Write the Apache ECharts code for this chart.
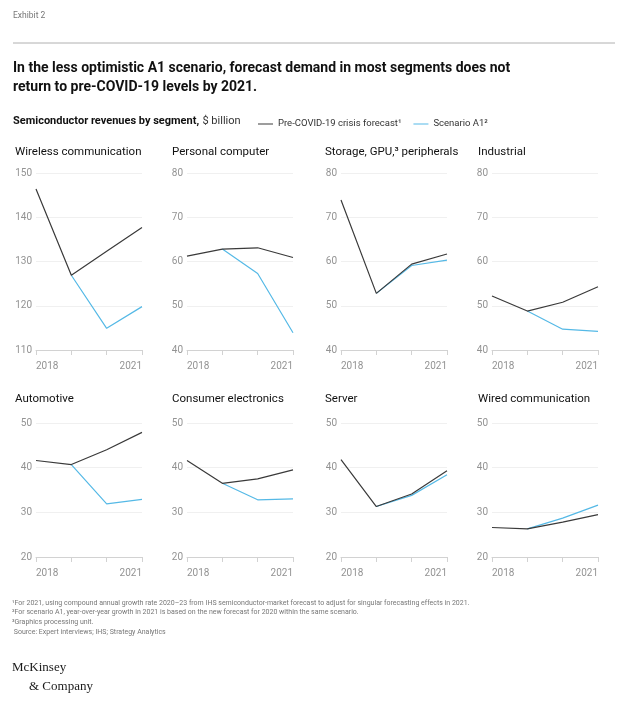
<!DOCTYPE html>
<html>
<head>
<meta charset="utf-8">
<script src="https://cdn.jsdelivr.net/npm/echarts@6/dist/echarts.min.js"></script>
<style>
  html, body { margin: 0; padding: 0; background: #fff; }
  #chart { width: 629px; height: 711px; }
</style>
</head>
<body>
<div id="chart"></div>
<script>
var years = ['2018', '2019', '2020', '2021']
var segments = ['Wireless communication', 'Personal computer', 'Storage, GPU,\u00b3 peripherals', 'Industrial',
  'Automotive', 'Consumer electronics', 'Server', 'Wired communication']
var preCovid = [
  [146.4, 126.9, 132.3, 137.7],
  [61.2, 62.8, 63.1, 60.9],
  [73.9, 52.8, 59.4, 61.7],
  [52.2, 48.8, 50.8, 54.3],
  [41.6, 40.7, 44.0, 47.9],
  [41.6, 36.5, 37.5, 39.5],
  [41.8, 31.3, 34.1, 39.3],
  [26.6, 26.3, 27.8, 29.5]
]
var scenarioA1 = [
  [null, 126.9, 114.9, 119.8],
  [null, 62.8, 57.3, 43.9],
  [null, 52.8, 59.1, 60.3],
  [null, 48.8, 44.7, 44.2],
  [null, 40.7, 31.9, 32.9],
  [null, 36.5, 32.8, 33.0],
  [null, 31.3, 33.8, 38.4],
  [null, 26.3, 28.7, 31.6]
]
var yMin = [110, 40, 40, 40, 20, 20, 20, 20]
var yMax = [150, 80, 80, 80, 50, 50, 50, 50]
var yStep = 10

var FONT = 'Roboto'
var DARK = '#3a3a3a'
var BLUE = '#55b9e6'

var chart = echarts.init(document.getElementById('chart'))

var colLeft = [36, 187, 341, 492]
var rowTop = [173, 423]
var rowHeight = [177, 134]
var titleX = [15, 172, 325, 478]
var titleY = [153, 400]

var grids = [], xAxes = [], yAxes = [], series = [], graphics = []

segments.forEach(function (name, i) {
  var col = i % 4, row = Math.floor(i / 4)
  grids.push({ left: colLeft[col], top: rowTop[row], width: 106, height: rowHeight[row] })
  xAxes.push({
    type: 'category', gridIndex: i, data: years, boundaryGap: false,
    axisLine: { lineStyle: { color: '#d2d2d2', width: 1 } },
    axisTick: { show: true, interval: 0, length: 5, lineStyle: { color: '#d2d2d2' } },
    axisLabel: {
      interval: function (idx) { return idx === 0 || idx === years.length - 1 },
      alignMinLabel: 'left', alignMaxLabel: 'right',
      color: '#939393', fontSize: 10, fontFamily: FONT, margin: 11
    }
  })
  yAxes.push({
    type: 'value', gridIndex: i, min: yMin[i], max: yMax[i], interval: yStep,
    axisLine: { show: false }, axisTick: { show: false },
    splitLine: { lineStyle: { color: '#f0f0f0', width: 1 } },
    axisLabel: { color: '#939393', fontSize: 10, fontFamily: FONT, margin: 4 }
  })
  series.push({
    name: 'Scenario A1', type: 'line', xAxisIndex: i, yAxisIndex: i,
    data: scenarioA1[i], symbol: 'none', lineStyle: { color: BLUE, width: 1.2 }, itemStyle: { color: BLUE }, z: 2
  })
  series.push({
    name: 'Pre-COVID-19 crisis forecast', type: 'line', xAxisIndex: i, yAxisIndex: i,
    data: preCovid[i], symbol: 'none', lineStyle: { color: DARK, width: 1.2 }, itemStyle: { color: DARK }, z: 3
  })
  graphics.push({
    type: 'text', left: titleX[col], top: titleY[row] - 7,
    style: { text: name, fill: '#111', fontSize: 11.5, fontFamily: FONT }
  })
})

graphics.push(
  { type: 'text', left: 13, top: 11, style: { text: 'Exhibit 2', fill: '#777', fontSize: 8.5, fontFamily: FONT } },
  { type: 'line', shape: { x1: 13, y1: 43, x2: 615, y2: 43 }, style: { stroke: '#b0b0b0', lineWidth: 1 } },
  {
    type: 'text', left: 13, top: 59,
    style: {
      text: 'In the less optimistic A1 scenario, forecast demand in most segments does not\nreturn to pre-COVID-19 levels by 2021.',
      fill: '#111', fontSize: 14, fontWeight: 'bold', fontFamily: FONT, lineHeight: 19
    }
  },
  {
    type: 'text', left: 13, top: 115,
    style: {
      text: '{b|Semiconductor revenues by segment,} {r|$ billion}',
      rich: {
        b: { fontSize: 11, fontWeight: 'bold', fontFamily: FONT, fill: '#111' },
        r: { fontSize: 11, fontFamily: FONT, fill: '#333' }
      }
    }
  },
  {
    type: 'text', left: 12, top: 598,
    style: {
      text: '\u00b9For 2021, using compound annual growth rate 2020\u201323 from IHS semiconductor-market forecast to adjust for singular forecasting effects in 2021.\n' +
        '\u00b2For scenario A1, year-over-year growth in 2021 is based on the new forecast for 2020 within the same scenario.\n' +
        '\u00b3Graphics processing unit.\n' +
        ' Source: Expert interviews; IHS; Strategy Analytics',
      fill: '#777', fontSize: 7, fontFamily: FONT, lineHeight: 9.7
    }
  },
  { type: 'text', left: 12, top: 661, style: { text: 'McKinsey', fill: '#1a1a1a', fontSize: 13, fontFamily: 'Liberation Serif' } },
  { type: 'text', left: 29, top: 680, style: { text: '& Company', fill: '#1a1a1a', fontSize: 13, fontFamily: 'Liberation Serif' } }
)

var option = {
  backgroundColor: '#fff',
  animation: false,
  legend: {
    left: 253, top: 114,
    data: ['Pre-COVID-19 crisis forecast', 'Scenario A1'],
    icon: 'rect', itemWidth: 15, itemHeight: 1, itemGap: 12,
    formatter: function (name) { return name === 'Scenario A1' ? name + '\u00b2' : name + '\u00b9' },
    textStyle: { fontSize: 9.5, fontFamily: FONT, color: '#333' },
    selectedMode: false
  },
  grid: grids,
  xAxis: xAxes,
  yAxis: yAxes,
  series: series,
  graphic: graphics
}
chart.setOption(option)
</script>
</body>
</html>
